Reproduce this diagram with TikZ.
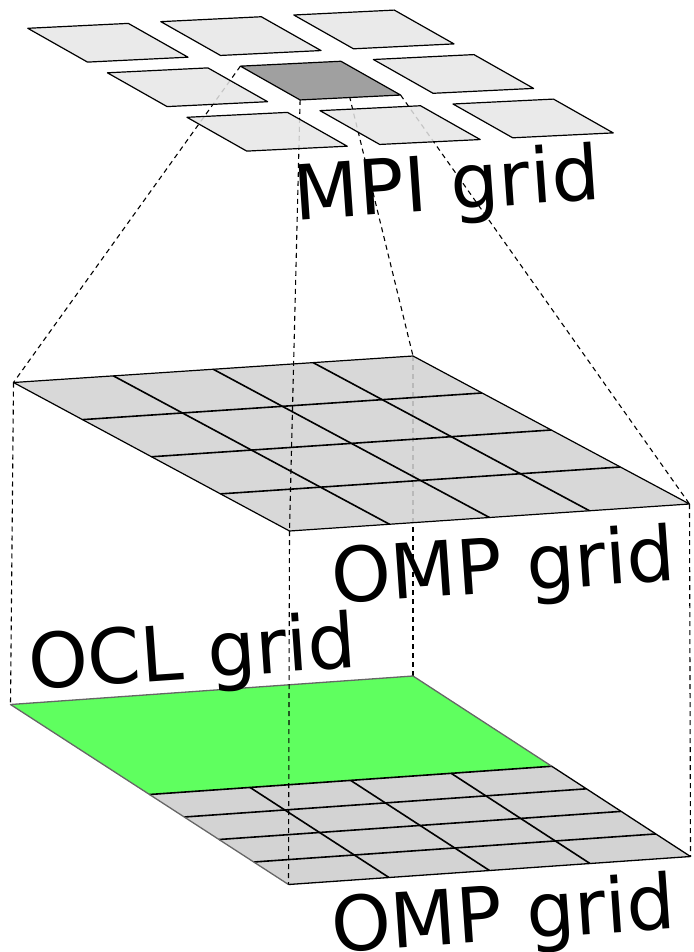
\documentclass[tikz,border=0pt]{standalone}
\usepackage{fontspec}
\setmainfont{DejaVu Sans}
\usetikzlibrary{calc}
\definecolor{tilegray}{HTML}{E6E6E6}
\definecolor{tiledark}{HTML}{A0A0A0}
\definecolor{planegray}{HTML}{D3D3D3}
\definecolor{oclgreen}{HTML}{5FFF5F}
\begin{document}
\begin{tikzpicture}[x=1pt,y=-1pt,
  guide/.style={dash pattern=on 5pt off 4pt, line width=1.1pt, black},
  tile/.style={draw=black, line width=1.2pt, fill=tilegray, fill opacity=0.85, line join=round},
  gridline/.style={line width=1.6pt, black},
  gridlabel/.style={font=\fontsize{76}{82}\selectfont, rotate=4, anchor=base west, inner sep=0pt}]
\useasboundingbox (0,0) rectangle (693,952);
% top (MPI) grid geometry
\coordinate (P0) at (27.8,28.3);
\coordinate (U) at (133,-6.65);
\coordinate (V) at (79.6,44.5);
\coordinate (c1) at ($(P0)+(U)+(V)$);
\coordinate (c2) at ($(c1)+(100.5,-4.9)$);
\coordinate (c3) at ($(c2)+(59.7,33.8)$);
\coordinate (c4) at ($(c1)+(59.7,33.8)$);
% middle (OMP) plane
\coordinate (Am) at (13.5,382.5);
\coordinate (Bm) at (413,356);
\coordinate (Cm) at (689.5,504);
\coordinate (Dm) at (289.5,531);
% lower (OCL/OMP) plane
\coordinate (Al) at (10.5,704.5);
\coordinate (Bl) at (413,676);
\coordinate (Cl) at (690.5,856.5);
\coordinate (Dl) at (288.5,884.5);
\coordinate (M1) at ($(Al)!0.5!(Dl)$);
\coordinate (M2) at ($(Bl)!0.5!(Cl)$);
% guide lines (behind)
\draw[guide] (c1) -- (Am);
\draw[guide] (c2) -- (Bm);
\draw[guide] (c3) -- (Cm);
\draw[guide] (c4) -- (Dm);
\draw[guide] (Am) -- (Al);
\draw[guide] (Bm) -- (Bl);
\draw[guide] (Cm) -- (Cl);
% MPI tiles
\foreach \i/\j in {0/0,1/0,2/0,0/1,2/1,0/2,1/2,2/2} {
  \draw[tile] ($(P0)+\i*(U)+\j*(V)$) -- ++(100.5,-4.9) -- ++(59.7,33.8) -- ++(-100.5,4.9) -- cycle;
}
\draw[tile, fill=tiledark, fill opacity=1] (c1) -- (c2) -- (c3) -- (c4) -- cycle;
% middle OMP plane
\filldraw[fill=planegray, fill opacity=0.88, draw=black, line width=1.2pt, line join=round] (Am) -- (Bm) -- (Cm) -- (Dm) -- cycle;
\foreach \f in {0.25,0.5,0.75} {
  \draw[gridline] ($(Am)!\f!(Bm)$) -- ($(Dm)!\f!(Cm)$);
  \draw[gridline] ($(Am)!\f!(Dm)$) -- ($(Bm)!\f!(Cm)$);
}
\begin{scope}
  \clip (Am) -- (Bm) -- (Cm) -- (Dm) -- cycle;
  \draw[guide] (c4) -- (Dm);
\end{scope}
% lower plane
\fill[oclgreen] (Al) -- (Bl) -- (M2) -- (M1) -- cycle;
\fill[planegray] (M1) -- (M2) -- (Cl) -- (Dl) -- cycle;
\foreach \f in {0.625,0.75,0.875}
  \draw[gridline] ($(Al)!\f!(Dl)$) -- ($(Bl)!\f!(Cl)$);
\foreach \f in {0.25,0.5,0.75}
  \draw[gridline] ($(M1)!\f!(M2)$) -- ($(Dl)!\f!(Cl)$);
\draw[gridline] (M1) -- (M2);
\draw[black!60, line width=1.3pt, line join=round] (M1) -- (Al) -- (Bl) -- (M2);
\draw[black!60, line width=1.3pt] (Dl) -- (M1);
\draw[black, line width=1.3pt, line join=round] (M2) -- (Cl) -- (Dl);
\draw[guide] (Dm) -- (Dl);
% labels
\node[gridlabel] (mpi) at (295,220.5) {MPI grid};
\node[gridlabel] (omp1) at (333,604) {OMP grid};
\node[gridlabel] (ocl) at (30,690) {OCL grid};
\node[gridlabel] (omp2) at (333,952.5) {OMP grid};
\end{tikzpicture}
\end{document}
